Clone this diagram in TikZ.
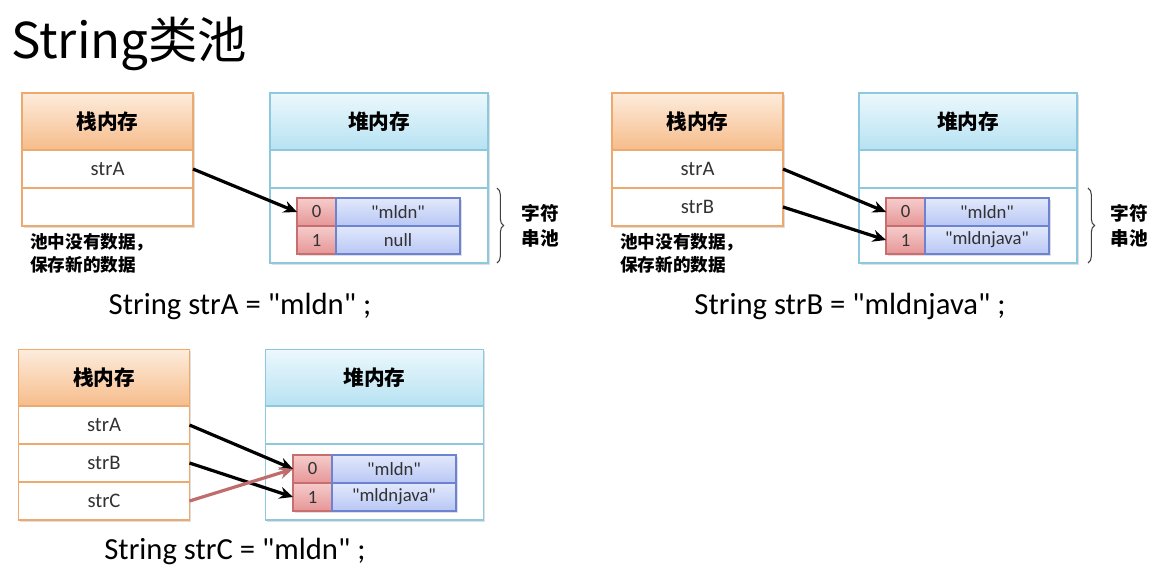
\documentclass[tikz,border=0pt]{standalone}
\usepackage{fontspec}
\setmainfont{Carlito}[Ligatures=TeXOff]
\newfontfamily\cjk{Noto Sans CJK SC}
\usetikzlibrary{arrows.meta,shadows,decorations.pathreplacing}

\definecolor{stacktop}{RGB}{253,236,220}
\definecolor{stackbot}{RGB}{246,188,138}
\definecolor{stackline}{RGB}{238,170,110}
\definecolor{heaptop}{RGB}{236,248,252}
\definecolor{heapbot}{RGB}{182,226,242}
\definecolor{heapline}{RGB}{140,200,222}
\definecolor{idxtop}{RGB}{246,204,204}
\definecolor{idxbot}{RGB}{230,150,150}
\definecolor{idxline}{RGB}{200,110,110}
\definecolor{valtop}{RGB}{226,233,252}
\definecolor{valbot}{RGB}{184,198,244}
\definecolor{valline}{RGB}{110,130,210}
\definecolor{strcline}{RGB}{192,108,108}
\definecolor{celltext}{RGB}{50,50,50}

\tikzset{
  cell/.style={draw, rectangle, inner sep=0pt, outer sep=0pt, line width=0.8pt,
    font=\fontsize{15.5}{18}\selectfont, text=celltext,
    drop shadow={shadow xshift=1.2pt, shadow yshift=-1.2pt, opacity=0.25}},
  stackhead/.style={cell, draw=stackline, top color=stacktop, bottom color=stackbot,
    minimum width=128.25pt, minimum height=42.75pt, text=black, font=\cjk\bfseries\fontsize{15.5}{18}\selectfont},
  stackrow/.style={cell, draw=stackline, fill=white, minimum width=128.25pt, minimum height=28.5pt},
  heaphead/.style={cell, draw=heapline, top color=heaptop, bottom color=heapbot,
    minimum width=163.5pt, minimum height=42.75pt, text=black, font=\cjk\bfseries\fontsize{15.5}{18}\selectfont},
  heaprow/.style={cell, draw=heapline, fill=white, minimum width=163.5pt, minimum height=28.5pt},
  heappool/.style={cell, draw=heapline, fill=white, minimum width=163.5pt, minimum height=56.25pt},
  idxcell/.style={cell, draw=idxline, top color=idxtop, bottom color=idxbot,
    minimum width=29.25pt, minimum height=21pt, font=\fontsize{14}{16}\selectfont},
  valcell/.style={cell, draw=valline, top color=valtop, bottom color=valbot,
    minimum width=93pt, minimum height=21pt, font=\fontsize{14}{16}\selectfont},
  ptr/.style={line width=2.4pt, -{Stealth[length=10pt,width=9pt]}},
  pool/.style={decorate, decoration={brace, amplitude=5pt}, line width=0.8pt, black!75},
  poollabel/.style={font=\cjk\bfseries\fontsize{14}{19}\selectfont, align=center},
  note/.style={font=\cjk\bfseries\fontsize{13.2}{17.5}\selectfont, align=left, anchor=west, inner sep=0pt},
  code/.style={font=\fontsize{23}{26}\selectfont, inner sep=0pt}
}

\begin{document}
\begin{tikzpicture}[x=0.75pt,y=0.75pt,yscale=-1,xscale=1]
  \useasboundingbox (0,0) rectangle (1158,586);

  % Text Node
  \node (title) [anchor=base west, inner sep=0pt, font=\cjk\fontsize{37}{40}\selectfont] at (11,58) {String类池};

  %Shape: Rectangle -- first picture, stack
  \node (s1h) [stackhead] at (107.5,121.5) {栈内存};
  \node (s1a) [stackrow] at (107.5,169) {strA};
  \node (s1b) [stackrow] at (107.5,207) {};
  %Shape: Rectangle -- first picture, heap
  \node (h1h) [heaphead] at (379,121.5) {堆内存};
  \node (h1a) [heaprow] at (379,169) {};
  \node (h1p) [heappool] at (379,225.5) {};
  \node (i10) [idxcell] at (316.5,212) {0};
  \node (v10) [valcell] at (398,212) {"mldn"};
  \node (i11) [idxcell] at (316.5,240) {1};
  \node (v11) [valcell] at (398,240) {null};
  %Straight Lines
  \draw [ptr] (s1a.east) -- (i10.west);
  % brace
  \coordinate (b1t) at (497,188);
  \coordinate (b1b) at (497,263);
  \draw [pool] (b1t) -- (b1b);
  % Text Node
  \node (p1) [poollabel] at (540,226) {字符\\串池};
  \node (n1) [note] at (30,253.5) {池中没有数据，\\保存新的数据};
  \node (c1) [code] at (240,306) {String strA = "mldn" ;};

  %Shape: Rectangle -- second picture, stack
  \node (s2h) [stackhead] at (697.5,121.5) {栈内存};
  \node (s2a) [stackrow] at (697.5,169) {strA};
  \node (s2b) [stackrow] at (697.5,207) {strB};
  %Shape: Rectangle -- second picture, heap
  \node (h2h) [heaphead] at (968,121.5) {堆内存};
  \node (h2a) [heaprow] at (968,169) {};
  \node (h2p) [heappool] at (968,225.5) {};
  \node (i20) [idxcell] at (905.5,212) {0};
  \node (v20) [valcell] at (987,212) {"mldn"};
  \node (i21) [idxcell] at (905.5,240) {1};
  \node (v21) [valcell] at (987,240) {"mldnjava"};
  %Straight Lines
  \draw [ptr] (s2a.east) -- (i20.west);
  \draw [ptr] (s2b.east) -- (i21.west);
  % brace
  \coordinate (b2t) at (1088,188);
  \coordinate (b2b) at (1088,263);
  \draw [pool] (b2t) -- (b2b);
  % Text Node
  \node (p2) [poollabel] at (1129,226) {字符\\串池};
  \node (n2) [note] at (620,253.5) {池中没有数据，\\保存新的数据};
  \node (c2) [code] at (850,306) {String strB = "mldnjava" ;};

  %Shape: Rectangle -- third picture, stack
  \node (s3h) [stackhead] at (104,378) {栈内存};
  \node (s3a) [stackrow] at (104,425) {strA};
  \node (s3b) [stackrow] at (104,463) {strB};
  \node (s3c) [stackrow] at (104,501) {strC};
  %Shape: Rectangle -- third picture, heap
  \node (h3h) [heaphead] at (374.5,378) {堆内存};
  \node (h3a) [heaprow] at (374.5,425) {};
  \node (h3p) [heappool, minimum height=57pt] at (374.5,482) {};
  \node (i30) [idxcell] at (312.5,469) {0};
  \node (v30) [valcell] at (394,469) {"mldn"};
  \node (i31) [idxcell] at (312.5,497) {1};
  \node (v31) [valcell] at (394,497) {"mldnjava"};
  %Straight Lines
  \draw [ptr] (s3a.east) -- (i30.west);
  \draw [ptr] (s3b.east) -- (i31.west);
  \draw [ptr, strcline] (s3c.east) -- (i30.west);
  % Text Node
  \node (c3) [code] at (235,551) {String strC = "mldn" ;};
\end{tikzpicture}
\end{document}
